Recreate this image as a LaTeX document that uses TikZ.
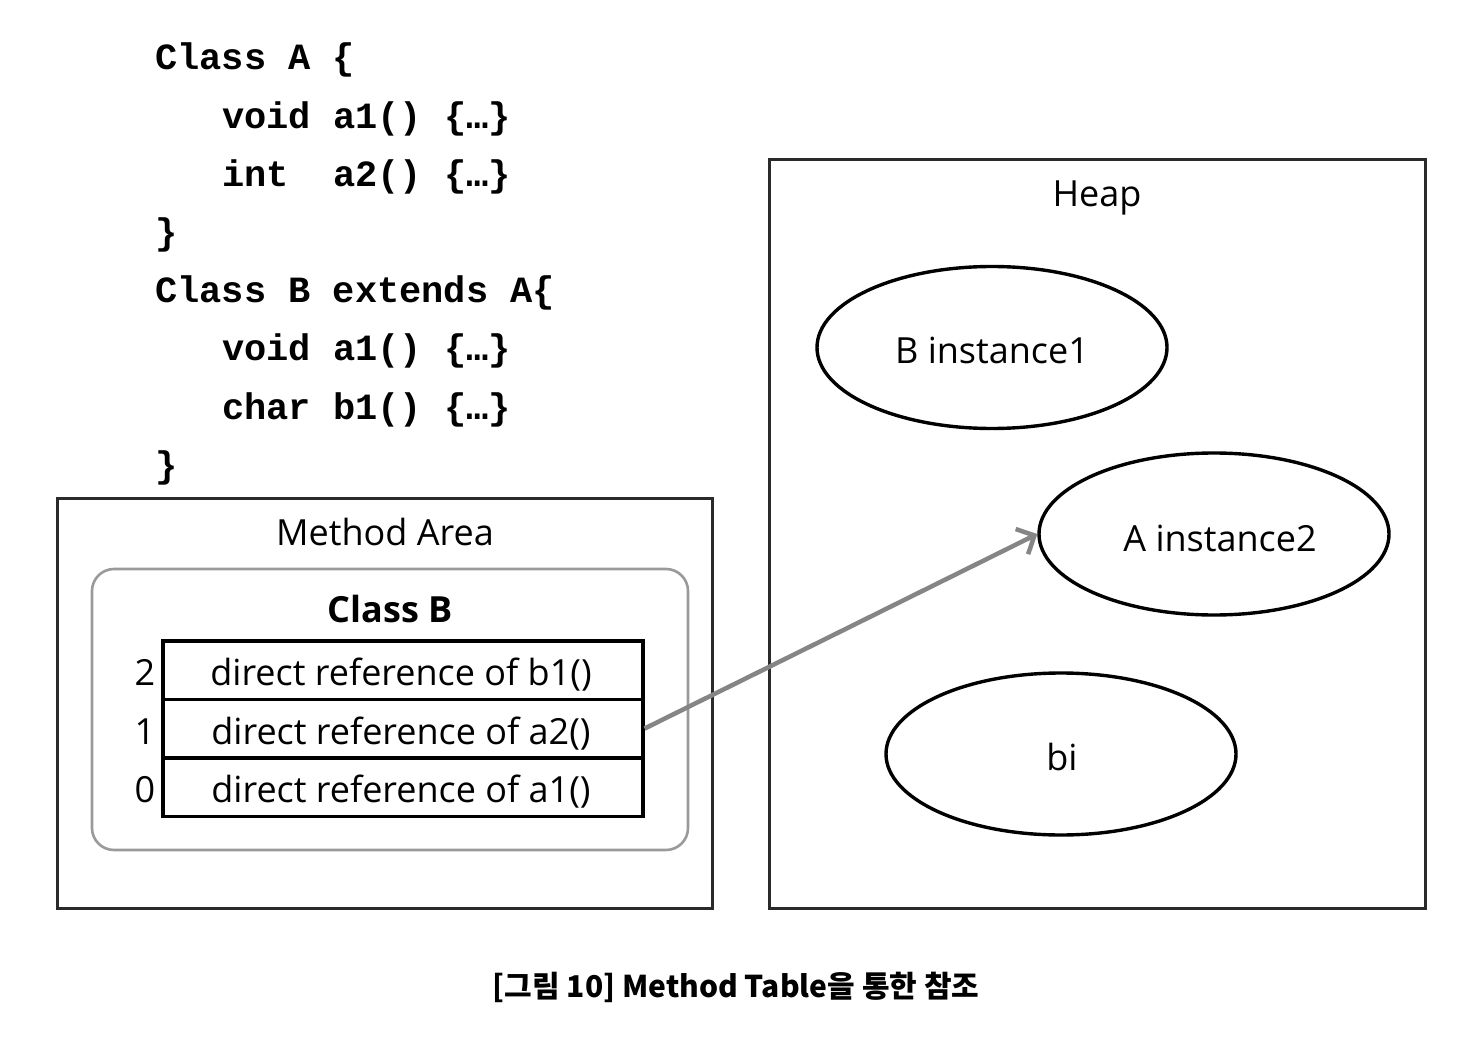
\documentclass[tikz,border=0pt]{standalone}
\usepackage{fontspec}
\setmainfont{Open Sans}
\newfontfamily\codefont{Liberation Mono}
\newfontfamily\cjkfont{Noto Sans CJK KR}
\usetikzlibrary{shapes.geometric,arrows.meta}
\definecolor{boxcol}{HTML}{2A2A2A}
\definecolor{innercol}{HTML}{9A9A9A}
\definecolor{arrowcol}{HTML}{858585}
\begin{document}
\begin{tikzpicture}[x=1pt,y=-1pt,
  code/.style={anchor=base west,inner sep=0pt,font=\codefont\bfseries\fontsize{37}{40}\selectfont},
  lbl/.style={anchor=base,inner sep=0pt,font=\fontsize{36}{40}\selectfont},
  area/.style={draw=boxcol,line width=3pt},
  tabrow/.style={draw=black,line width=3.6pt,minimum width=480pt,minimum height=58.5pt,inner sep=0pt,anchor=north west},
  obj/.style={draw=black,line width=3.4pt,ellipse,minimum width=350pt,minimum height=162pt,inner sep=0pt},
  ref/.style={draw=arrowcol,line width=4.5pt,-{Straight Barb[length=14pt,width=28pt]}}
]
\useasboundingbox (0,0) rectangle (1480,1056);
\fill[white] (0,0) rectangle (1480,1056);

% code
\node[code] (c1) at (155,70) {Class A \{};
\node[code] (c2) at (222,128.2) {void a1() \{…\}};
\node[code] (c3) at (222,186.4) {int\ \ a2() \{…\}};
\node[code] (c4) at (155,244.6) {\}};
\node[code] (c5) at (155,302.8) {Class B extends A\{};
\node[code] (c6) at (222,361) {void a1() \{…\}};
\node[code] (c7) at (222,419.2) {char b1() \{…\}};
\node[code] (c8) at (155,477.4) {\}};

% method area
\draw[area] (57,498) rectangle (712,908);
\node[lbl] (ma) at (385,545) {Method Area};
\draw[draw=innercol,line width=2.6pt,rounded corners=22pt] (92,569) rectangle (688,850);
\node[lbl,font=\bfseries\fontsize{36}{40}\selectfont] (cb) at (390,622) {Class B};
\node[tabrow] (r2) at (161,639) {};
\node[tabrow] (r1) at (161,697.5) {};
\node[tabrow] (r0) at (161,756) {};
\node[lbl] (t2) at (401,685) {direct reference of b1()};
\node[lbl] (t1) at (401,744) {direct reference of a2()};
\node[lbl] (t0) at (401,802) {direct reference of a1()};
\node[lbl] (n2) at (145,685) {2};
\node[lbl] (n1) at (145,744) {1};
\node[lbl] (n0) at (145,802) {0};

% heap
\draw[area] (769,160) rectangle (1425,908);
\node[lbl] (hp) at (1097,207) {Heap};
\node[obj] (ob1) at (992,347.5) {};
\node[obj] (oa2) at (1214,534) {};
\node[obj] (obi) at (1061,754) {};
\node[lbl] (tb1) at (992,363) {B instance1};
\node[lbl] (ta2) at (1220,551) {A instance2};
\node[lbl] (tbi) at (1062,770) {bi};

% reference arrow
\draw[ref] (r1.east) -- (oa2.west);

% caption
\node[anchor=base,inner sep=0pt,font=\cjkfont\bfseries\fontsize{30}{34}\selectfont] (cap) at (736,997) {[그림 10] Method Table을 통한 참조};
\end{tikzpicture}
\end{document}
